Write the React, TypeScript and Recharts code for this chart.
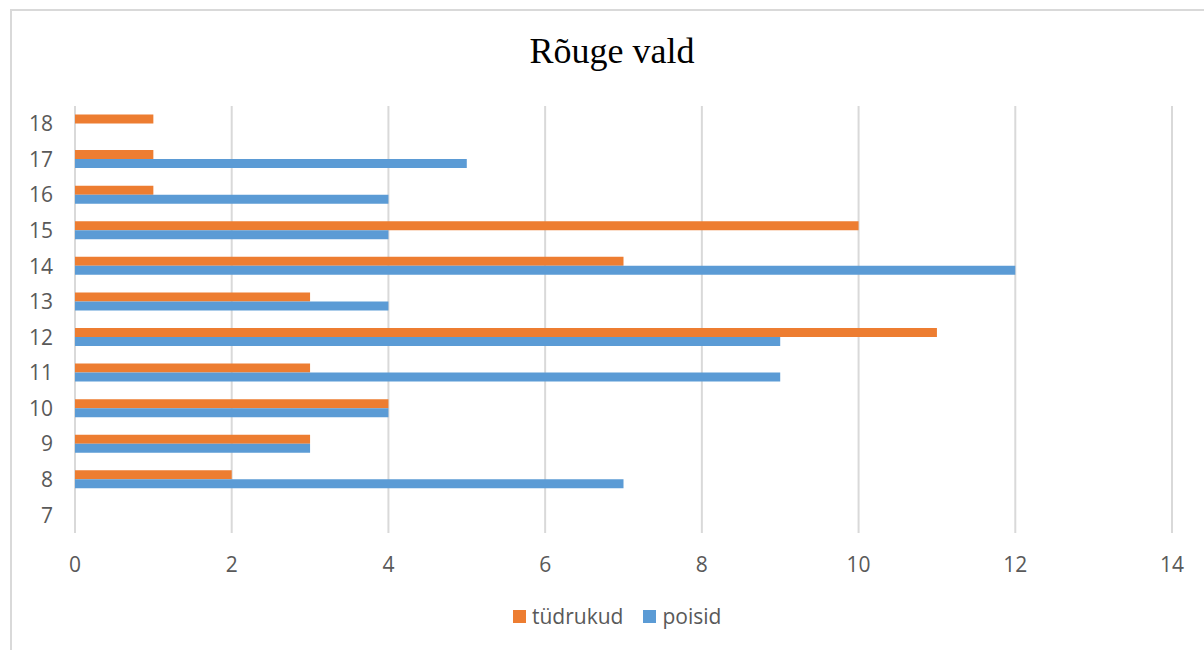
import { Bar, BarChart, CartesianGrid, XAxis, YAxis } from "recharts";

const ages = ["7", "8", "9", "10", "11", "12", "13", "14", "15", "16", "17", "18"];
const tudrukud = [0, 2, 3, 4, 3, 11, 3, 7, 10, 1, 1, 1];
const poisid = [0, 7, 3, 4, 9, 9, 4, 12, 4, 4, 5, 0];
const xTicks = [0, 2, 4, 6, 8, 10, 12, 14];

const SERIES = [
  { key: "tüdrukud", color: "#ED7D31" },
  { key: "poisid", color: "#5B9BD5" }
];

const data = ages.map((age, i) => ({
  age,
  "tüdrukud": tudrukud[i],
  poisid: poisid[i]
}));

const FONT = "'Open Sans', 'Liberation Sans', sans-serif";
const TEXT = "#595959";

export default function App() {
  return (
    <div style={{ position: "absolute", left: 0, top: 0, width: 1204, height: 650, overflow: "hidden", background: "#fff" }}>
      <div
        style={{
          position: "absolute",
          left: 10,
          top: 9,
          width: 1220,
          height: 700,
          border: "2px solid #d9d9d9"
        }}
      />
      <div
        style={{
          position: "absolute",
          left: 0,
          top: 31,
          width: 1224,
          textAlign: "center",
          fontFamily: "'Liberation Serif', 'Times New Roman', serif",
          fontSize: 36,
          lineHeight: "40px",
          color: "#000"
        }}
      >
        Rõuge vald
      </div>
      <div style={{ position: "absolute", left: 0, top: 0 }}>
        <BarChart
          width={1204}
          height={650}
          data={data}
          layout="vertical"
          margin={{ top: 106, right: 32, bottom: 77, left: 11 }}
          barCategoryGap="24%"
          barGap={0}
        >
          <CartesianGrid horizontal={false} stroke="#d9d9d9" strokeWidth={2} />
          <XAxis
            type="number"
            domain={[0, 14]}
            ticks={xTicks}
            axisLine={false}
            tickLine={false}
            tickMargin={18}
            height={40}
            tick={{ fill: TEXT, fontSize: 21, fontFamily: FONT }}
          />
          <YAxis
            type="category"
            dataKey="age"
            reversed
            axisLine={false}
            tickLine={false}
            tickMargin={16}
            width={64}
            interval={0}
            tick={{ fill: TEXT, fontSize: 21, fontFamily: FONT }}
          />
          {SERIES.map((s) => (
            <Bar key={s.key} dataKey={s.key} fill={s.color} isAnimationActive={false} />
          ))}
        </BarChart>
      </div>
      <div
        style={{
          position: "absolute",
          left: 513,
          top: 602,
          display: "flex",
          alignItems: "center",
          fontFamily: FONT,
          fontSize: 21,
          color: TEXT
        }}
      >
        {SERIES.map((s) => (
          <div key={s.key} style={{ display: "flex", alignItems: "center", marginRight: 20 }}>
            <span style={{ display: "inline-block", width: 13, height: 13, background: s.color, marginRight: 6 }} />
            <span>{s.key}</span>
          </div>
        ))}
      </div>
    </div>
  );
}
